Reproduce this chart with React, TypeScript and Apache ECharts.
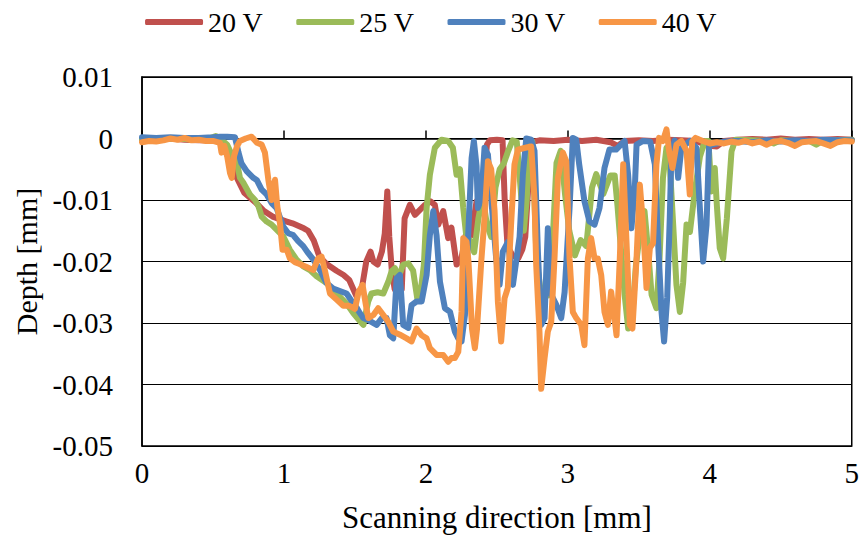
import React, { useEffect, useRef } from 'react';
import * as echarts from 'echarts';

const seriesNames = ['20 V', '25 V', '30 V', '40 V'];
const seriesColors = ['#C0504D', '#9BBB59', '#4F81BD', '#F79646'];

const xMin = 0;
const xMax = 5;
const xStep = 1;
const yMin = -0.05;
const yMax = 0.01;
const yStep = 0.01;

const red20: [number, number][] = [
  [0, -0.0002], [0.1, -0.0003], [0.2, 0], [0.3, -0.0002], [0.4, -0.0003], [0.5, -0.0003], [0.55, -0.0006],
  [0.58, -0.0018], [0.62, -0.0035], [0.66, -0.006], [0.72, -0.0088], [0.8, -0.0104], [0.86, -0.0118],
  [0.92, -0.0127], [0.98, -0.0132], [1.02, -0.0135], [1.06, -0.0138], [1.1, -0.0142], [1.14, -0.0146],
  [1.17, -0.015], [1.21, -0.0166], [1.25, -0.0192], [1.3, -0.0204], [1.37, -0.0215], [1.42, -0.0222],
  [1.46, -0.023], [1.51, -0.0256], [1.55, -0.0242], [1.58, -0.02], [1.61, -0.0184], [1.63, -0.02],
  [1.66, -0.0205], [1.69, -0.0184], [1.71, -0.0155], [1.728, -0.0086], [1.742, -0.016], [1.76, -0.0215],
  [1.78, -0.0245], [1.83, -0.0245], [1.85, -0.013], [1.887, -0.0108], [1.923, -0.0124], [1.958, -0.0116],
  [1.993, -0.0108], [2.03, -0.0102], [2.063, -0.0108], [2.087, -0.014], [2.122, -0.0118], [2.157, -0.0162],
  [2.18, -0.0145], [2.216, -0.0205], [2.25, -0.0195], [2.286, -0.0151], [2.32, -0.0157], [2.357, -0.0102],
  [2.38, -0.0095], [2.41, -0.006], [2.43, -0.001], [2.45, -0.0003], [2.5, -0.0002], [2.54, -0.0003],
  [2.555, -0.01], [2.575, -0.0175], [2.61, -0.019], [2.65, -0.0195], [2.68, -0.018], [2.7, -0.016],
  [2.74, -0.0006], [2.8, -0.0003], [2.9, -0.0004], [3.0, -0.0002], [3.1, -0.0004], [3.2, -0.0002],
  [3.3, -0.0006], [3.35, -0.0012], [3.4, -0.0004], [3.5, -0.0003], [3.6, -0.0004], [3.7, -0.0002],
  [3.8, -0.0003], [3.9, -0.0004], [4.0, -0.0012], [4.05, -0.0013], [4.1, -0.0004], [4.2, -0.0002],
  [4.3, -0.0001], [4.4, -0.0002], [4.5, 0], [4.6, -0.0002], [4.7, -0.0001], [4.8, -0.0002], [4.9, -0.0001],
  [5.0, -0.0002],
];

const green25: [number, number][] = [
  [0, -0.0001], [0.1, -0.0002], [0.2, 0], [0.3, -0.0001], [0.4, -0.0002], [0.47, 0], [0.52, 0.0004],
  [0.56, -0.0002], [0.6, -0.001], [0.64, -0.003], [0.67, -0.004], [0.69, -0.0064], [0.714, -0.0072],
  [0.76, -0.0091], [0.796, -0.01], [0.82, -0.011], [0.843, -0.0127], [0.878, -0.0135], [0.913, -0.014],
  [0.948, -0.0148], [0.995, -0.0159], [1.042, -0.0181], [1.089, -0.0197], [1.136, -0.0208], [1.183, -0.0214],
  [1.23, -0.0224], [1.3, -0.0235], [1.371, -0.0252], [1.44, -0.0268], [1.488, -0.0284], [1.535, -0.0297],
  [1.56, -0.0303], [1.575, -0.0285], [1.594, -0.0265], [1.617, -0.0252], [1.66, -0.025], [1.7, -0.0252],
  [1.735, -0.0233], [1.758, -0.0216], [1.782, -0.0211], [1.805, -0.0227], [1.84, -0.0205], [1.876, -0.0203],
  [1.91, -0.0215], [1.939, -0.026], [1.96, -0.0255], [1.986, -0.0205], [2.005, -0.0113], [2.028, -0.0059],
  [2.063, -0.0015], [2.11, -0.0002], [2.157, -0.0004], [2.19, -0.0015], [2.216, -0.0059], [2.24, -0.005],
  [2.263, -0.0113], [2.286, -0.0162], [2.31, -0.0165], [2.34, -0.0185], [2.37, -0.013], [2.4, -0.0095],
  [2.43, -0.014], [2.46, -0.016], [2.49, -0.008], [2.52, -0.005], [2.55, -0.004], [2.58, -0.002],
  [2.61, -0.0003], [2.64, -0.0005], [2.66, -0.006], [2.69, -0.015], [2.71, -0.01], [2.73, -0.001],
  [2.75, -0.0005], [2.78, -0.02], [2.81, -0.025], [2.86, -0.0255], [2.89, -0.018], [2.92, -0.004],
  [2.95, -0.002], [2.98, -0.009], [3.01, -0.015], [3.05, -0.019], [3.09, -0.0165], [3.13, -0.0175],
  [3.17, -0.008], [3.2, -0.0058], [3.25, -0.009], [3.3, -0.006], [3.33, -0.006], [3.35, -0.011],
  [3.366, -0.0157], [3.4, -0.0254], [3.425, -0.0309], [3.45, -0.03], [3.48, -0.0205], [3.52, -0.013],
  [3.54, -0.0118], [3.566, -0.0184], [3.59, -0.0254], [3.624, -0.0276], [3.645, -0.02], [3.67, -0.0064],
  [3.695, -0.0015], [3.718, -0.0042], [3.742, -0.014], [3.765, -0.0238], [3.789, -0.0282], [3.812, -0.0235],
  [3.836, -0.014], [3.86, -0.0152], [3.894, -0.0086], [3.93, -0.003], [3.965, -0.0004], [3.99, -0.0004],
  [4.012, -0.0086], [4.035, -0.0048], [4.05, -0.011], [4.07, -0.0178], [4.094, -0.0195], [4.12, -0.013],
  [4.153, -0.0021], [4.18, -0.0002], [4.3, -0.0003], [4.4, -0.0004], [4.45, -0.0008], [4.5, -0.0003],
  [4.6, -0.0004], [4.7, -0.0004], [4.75, -0.001], [4.8, -0.0003], [4.9, -0.0003], [5, -0.0002],
];

const blue30: [number, number][] = [
  [0, 0.0002], [0.1, 0.0001], [0.2, 0.0002], [0.3, 0.0001], [0.4, 0.0001], [0.5, 0.0002], [0.55, 0.0003],
  [0.6, 0.0003], [0.655, 0.0002], [0.68, -0.0023], [0.7, -0.004], [0.737, -0.0053], [0.784, -0.0064],
  [0.81, -0.0068], [0.843, -0.0083], [0.878, -0.0091], [0.913, -0.0105], [0.948, -0.0113], [0.995, -0.0143],
  [1.03, -0.0154], [1.065, -0.0157], [1.1, -0.0167], [1.136, -0.0175], [1.17, -0.0186], [1.207, -0.0197],
  [1.254, -0.0214], [1.3, -0.0235], [1.347, -0.0244], [1.394, -0.0248], [1.441, -0.0252], [1.488, -0.0268],
  [1.512, -0.0275], [1.535, -0.0284], [1.559, -0.0292], [1.6, -0.0296], [1.653, -0.0303], [1.69, -0.0292],
  [1.723, -0.0292], [1.746, -0.032], [1.77, -0.0325], [1.794, -0.0227], [1.817, -0.0222], [1.84, -0.0303],
  [1.876, -0.0308], [1.899, -0.0271], [1.934, -0.0265], [1.97, -0.0265], [2.005, -0.0222], [2.028, -0.0157],
  [2.052, -0.0118], [2.075, -0.0157], [2.099, -0.0233], [2.134, -0.0276], [2.17, -0.0282], [2.204, -0.0314],
  [2.228, -0.0325], [2.251, -0.033], [2.275, -0.0287], [2.298, -0.0157], [2.322, -0.0032], [2.338, -0.0004],
  [2.357, -0.0045], [2.366, -0.0113], [2.39, -0.0097], [2.413, -0.0015], [2.437, -0.0026], [2.46, -0.0097],
  [2.495, -0.0195], [2.519, -0.0238], [2.542, -0.0184], [2.578, -0.0168], [2.613, -0.0238], [2.66, -0.016],
  [2.683, -0.0059], [2.707, 0], [2.742, -0.0002], [2.765, -0.002], [2.789, -0.0184], [2.812, -0.0303],
  [2.836, -0.0292], [2.859, -0.0146], [2.883, -0.0254], [2.918, -0.027], [2.953, -0.0292], [2.977, -0.025],
  [3.012, -0.0113], [3.035, 0.0001], [3.059, -0.0002], [3.08, -0.0042], [3.117, -0.0102], [3.152, -0.0135],
  [3.188, -0.014], [3.223, -0.0113], [3.258, -0.0048], [3.293, -0.0018], [3.34, -0.0018], [3.4, -0.0004],
  [3.425, -0.006], [3.448, -0.0146], [3.472, -0.008], [3.484, -0.001], [3.53, -0.0004], [3.58, -0.0005],
  [3.613, -0.0042], [3.636, -0.017], [3.66, -0.0282], [3.678, -0.033], [3.7, -0.0258], [3.718, -0.0129],
  [3.73, -0.0021], [3.753, -0.0003], [3.777, -0.0064], [3.8, -0.0015], [3.86, -0.0004], [3.906, -0.0015],
  [3.93, -0.0113], [3.953, -0.02], [3.977, -0.014], [3.995, -0.001], [4.02, -0.001], [4.1, -0.0005],
  [4.2, -0.0004], [4.3, -0.0006], [4.4, -0.0003], [4.5, -0.0005], [4.6, -0.0003], [4.7, -0.0004],
  [4.8, -0.0002], [4.9, -0.0003], [5, -0.0003],
];

const orange40: [number, number][] = [
  [0, -0.0006], [0.05, -0.0004], [0.1, -0.0005], [0.15, -0.0003], [0.2, 0], [0.25, -0.0002], [0.3, 0.0001],
  [0.35, -0.0003], [0.4, -0.0002], [0.45, -0.0004], [0.5, -0.0004], [0.549, -0.0007], [0.56, -0.0023],
  [0.58, -0.0012], [0.6, -0.0029], [0.62, -0.0056], [0.632, -0.0064], [0.648, -0.0029], [0.67, -0.0012],
  [0.69, -0.0004], [0.73, 0], [0.772, 0.0003], [0.81, -0.0007], [0.843, -0.001], [0.866, -0.0023],
  [0.89, -0.0067], [0.913, -0.01], [0.937, -0.0067], [0.953, -0.011], [0.972, -0.0138], [0.99, -0.0181],
  [1.02, -0.0181], [1.042, -0.0195], [1.077, -0.0201], [1.11, -0.0204], [1.16, -0.0209], [1.207, -0.0214],
  [1.24, -0.0195], [1.265, -0.0192], [1.29, -0.0216], [1.324, -0.0252], [1.371, -0.0262], [1.418, -0.0272],
  [1.46, -0.0272], [1.5, -0.0277], [1.525, -0.025], [1.554, -0.0238], [1.575, -0.0268], [1.594, -0.0292],
  [1.63, -0.0287], [1.664, -0.0276], [1.7, -0.0287], [1.735, -0.0298], [1.77, -0.0314], [1.817, -0.0319],
  [1.864, -0.0325], [1.899, -0.033], [1.934, -0.0309], [1.97, -0.032], [2.005, -0.0325], [2.028, -0.0341],
  [2.075, -0.0352], [2.122, -0.0352], [2.157, -0.0363], [2.18, -0.0357], [2.204, -0.0357], [2.228, -0.0347],
  [2.251, -0.0282], [2.263, -0.0162], [2.286, -0.0168], [2.3, -0.02], [2.325, -0.031], [2.345, -0.0341],
  [2.36, -0.031], [2.39, -0.02], [2.413, -0.0129], [2.437, -0.0037], [2.46, -0.005], [2.484, -0.0118],
  [2.507, -0.0265], [2.53, -0.033], [2.554, -0.026], [2.577, -0.0243], [2.6, -0.014], [2.624, -0.0042],
  [2.648, -0.0018], [2.7, -0.0015], [2.742, -0.0013], [2.765, -0.0097], [2.777, -0.0205], [2.8, -0.0314],
  [2.812, -0.0407], [2.836, -0.0357], [2.859, -0.0314], [2.883, -0.0298], [2.906, -0.0195], [2.93, -0.0064],
  [2.965, -0.0023], [2.989, -0.0037], [3.012, -0.0195], [3.035, -0.0282], [3.059, -0.0292], [3.094, -0.0303],
  [3.117, -0.0336], [3.141, -0.0195], [3.164, -0.0162], [3.188, -0.0195], [3.211, -0.0195], [3.235, -0.0222],
  [3.258, -0.0282], [3.282, -0.0303], [3.305, -0.0249], [3.325, -0.0285], [3.343, -0.032], [3.366, -0.0195],
  [3.39, -0.0042], [3.413, -0.0167], [3.437, -0.0303], [3.455, -0.0309], [3.484, -0.0195], [3.507, -0.0075],
  [3.53, -0.014], [3.554, -0.0243], [3.578, -0.0178], [3.6, -0.017], [3.624, -0.0042], [3.643, 0.0001],
  [3.67, -0.0004], [3.695, 0.0015], [3.713, -0.002], [3.737, -0.0048], [3.765, -0.001], [3.8, -0.0004],
  [3.836, -0.002], [3.859, -0.0091], [3.876, -0.0005], [3.9, 0.0001], [3.95, -0.0004], [4.0, -0.0008],
  [4.05, -0.0006], [4.1, -0.0008], [4.15, -0.0005], [4.2, -0.0007], [4.25, -0.0004], [4.3, -0.0008],
  [4.35, -0.0005], [4.4, -0.001], [4.45, -0.0005], [4.5, -0.0004], [4.55, -0.0007], [4.6, -0.0012],
  [4.65, -0.0006], [4.7, -0.0005], [4.75, -0.0004], [4.8, -0.0008], [4.85, -0.0012], [4.9, -0.0006],
  [4.95, -0.0004], [5, -0.0005],
];

const seriesData = [red20, green25, blue30, orange40];

const FONT = 'Liberation Serif';

export default function App() {
  const ref = useRef<HTMLDivElement>(null);

  useEffect(() => {
    const chart = echarts.init(ref.current!, null, { renderer: 'svg' });
    chart.setOption({
      animation: false,
      backgroundColor: '#ffffff',
      textStyle: { fontFamily: FONT, color: '#000' },
      legend: {
        top: 3,
        left: 'center',
        icon: 'roundRect',
        itemWidth: 58,
        itemHeight: 6,
        itemGap: 33,
        textStyle: { fontFamily: FONT, fontSize: 28, color: '#000' },
        data: seriesNames,
      },
      grid: {
        left: 142,
        right: 10,
        top: 77,
        bottom: 100,
        show: true,
        borderColor: '#000',
        borderWidth: 1.5,
        backgroundColor: 'transparent',
      },
      xAxis: [
        {
          type: 'value',
          min: xMin,
          max: xMax,
          interval: xStep,
          position: 'bottom',
          axisLine: { show: true, onZero: true, lineStyle: { color: '#000', width: 1.5 } },
          axisTick: { show: true, inside: true, length: 8, lineStyle: { color: '#000', width: 1.5 } },
          axisLabel: { show: false },
          splitLine: { show: false },
        },
        {
          type: 'value',
          min: xMin,
          max: xMax,
          interval: xStep,
          position: 'bottom',
          axisLine: { show: false, onZero: false },
          axisTick: { show: false },
          splitLine: { show: false },
          axisLabel: {
            show: true,
            margin: 12,
            fontFamily: FONT,
            fontSize: 29,
            color: '#000',
            formatter: (v: number) => String(Math.round(v)),
          },
          name: 'Scanning direction [mm]',
          nameLocation: 'middle',
          nameGap: 56,
          nameTextStyle: { fontFamily: FONT, fontSize: 31, color: '#000' },
        },
      ],
      yAxis: {
        type: 'value',
        min: yMin,
        max: yMax,
        interval: yStep,
        axisLine: { show: true, onZero: false, lineStyle: { color: '#000', width: 1.5 } },
        axisTick: { show: false },
        splitLine: { show: true, lineStyle: { color: '#000', width: 1 } },
        axisLabel: {
          margin: 29,
          fontFamily: FONT,
          fontSize: 29,
          color: '#000',
          formatter: (v: number) => {
            const r = Math.round(v * 100) / 100;
            return r === 0 ? '0' : String(r);
          },
        },
        name: 'Depth [mm]',
        nameLocation: 'middle',
        nameGap: 100,
        nameTextStyle: { fontFamily: FONT, fontSize: 30, color: '#000' },
      },
      series: seriesNames.map((name, i) => ({
        name,
        type: 'line',
        xAxisIndex: 0,
        yAxisIndex: 0,
        data: seriesData[i],
        showSymbol: false,
        symbol: 'none',
        color: seriesColors[i],
        lineStyle: { width: 6, color: seriesColors[i], cap: 'round', join: 'round' },
        z: 2 + i,
      })),
    });
    return () => chart.dispose();
  }, []);

  return (
    <div
      ref={ref}
      style={{ position: 'fixed', left: 0, top: 0, width: 862, height: 546 }}
    />
  );
}
